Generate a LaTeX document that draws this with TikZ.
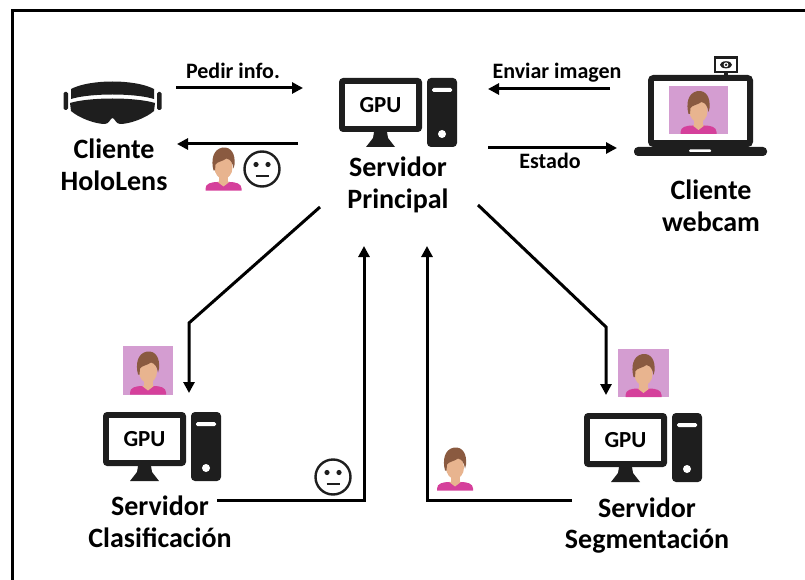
\documentclass[tikz,border=0pt]{standalone}
\usepackage{fontspec}
\setmainfont{Carlito}
\usetikzlibrary{arrows.meta}

\definecolor{icon}{HTML}{1E1E1E}
\definecolor{photobg}{HTML}{D49DD1}
\definecolor{photoshade}{HTML}{DAAAD8}
\definecolor{hair}{HTML}{8A5A40}
\definecolor{skin}{HTML}{E8B48F}
\definecolor{shirt}{HTML}{D5409B}

\tikzset{
  % generic user avatar (origin = centre of a 50x50 tile, y grows downwards)
  pics/person/.style={code={
    \fill[shirt] (-18,24) -- (-18,22) .. controls (-18,17) and (-12,15.5) .. (-6,15.5)
       -- (6,15.5) .. controls (12,15.5) and (18,17) .. (18,22) -- (18,24) -- cycle;
    \fill[skin] (-4.5,8) rectangle (4.5,16);
    \fill[skin] (-6,15.4) -- (6,15.4) -- (0,20) -- cycle;
    \fill[skin] (0,1) ellipse (9 and 11.5);
    \fill[hair] (-10,4) .. controls (-12.5,-6) and (-11,-17) .. (-1,-19)
       .. controls (8,-20) and (12,-12) .. (11,-2) -- (10,2)
       .. controls (9,-4) and (7,-7) .. (3,-8)
       .. controls (-1,-5) and (-6,-5) .. (-8,-2) -- (-8.5,4) -- cycle;
  }},
  % neutral face emoji
  pics/neutral/.style={code={
    \draw[icon, line width=2.4pt] (0,0) circle (17.5);
    \fill[icon] (-6,-4.5) circle (2.6);
    \fill[icon] (6,-4.5) circle (2.6);
    \draw[icon, line width=2.4pt] (-6.5,7) -- (6.5,7);
  }},
  % desktop computer with GPU label (origin = top-left corner of the screen)
  pics/gpuserver/.style={code={
    \fill[icon, rounded corners=4pt] (0,0) rectangle (83,54);
    \fill[white] (6,6) rectangle (77,48);
    \fill[icon] (35,54) -- (48,54) -- (49,60) -- (56,69) -- (27,69) -- (34,60) -- cycle;
    \fill[icon, rounded corners=4pt] (88,0) rectangle (118,69);
    \fill[white, rounded corners=1.5pt] (93,10) rectangle (113,14);
    \fill[white] (103,56) circle (4);
    \node[gpulbl] (-gpu) at (41.5,27.5) {GPU};
  }},
  gpulbl/.style={font=\fontsize{23}{27}\selectfont\bfseries, inner sep=0pt},
  title/.style={font=\fontsize{28}{32}\selectfont\bfseries, inner sep=0pt, anchor=base},
  msg/.style={font=\fontsize{22}{26}\selectfont\bfseries, inner sep=0pt, anchor=base},
  photo/.style={fill=photobg, inner sep=0pt, draw=none},
  flow/.style={line width=3pt, -{Triangle[length=11pt,width=11pt]}},
  link/.style={line width=3pt},
}

\begin{document}
\begin{tikzpicture}[x=1pt,y=-1pt]
\useasboundingbox (0,0) rectangle (805,580);

% outer frame
\begin{scope}
  \clip (0,0) rectangle (805,580);
  \draw[line width=3pt] (12.5,10.5) rectangle (830,600);
\end{scope}

% ---------- HoloLens client ----------
\fill[icon] (71,89) .. controls (90,79) and (135,79) .. (154,89)
   -- (154,99) .. controls (135,93) and (90,93) .. (71,99) -- cycle;
\fill[icon] (70,103) .. controls (90,97) and (135,97) .. (155,103)
   -- (154,111) .. controls (146,118) and (130,124) .. (120,124)
   .. controls (116,124) and (114.5,118) .. (112.5,118)
   .. controls (110.5,118) and (109,124) .. (105,124)
   .. controls (95,124) and (79,118) .. (71,111) -- cycle;
\fill[icon, rounded corners=1.5pt] (63.5,92) rectangle (68,110);
\fill[icon, rounded corners=1.5pt] (157,92) rectangle (161.5,110);
\node[title] (holo1) at (114,159) {Cliente};
\node[title] (holo2) at (114,190) {HoloLens};

% ---------- main server ----------
\pic (srvmain) at (339,78) {gpuserver};
\node[title] (main1) at (398,177) {Servidor};
\node[title] (main2) at (398,208) {Principal};

% ---------- webcam client ----------
\fill[icon, rounded corners=5pt] (648,75) rectangle (753,147);
\fill[white] (654,81) rectangle (747,140);
\node[photo, minimum width=59pt, minimum height=48pt] (camphoto) at (698.5,110) {};
\pic at (698.5,110) {person};
\fill[icon, rounded corners=4pt] (634,147) rectangle (767,156);
\fill[white, rounded corners=1pt] (689,149.5) rectangle (711,152);
\draw[icon, line width=2.2pt, fill=white] (715,57.5) rectangle (737,72);
\fill[icon] (724,72) rectangle (728,75);
\fill[icon] (726,64.8) ellipse (6 and 3.6);
\fill[white] (726,64.8) circle (2.4);
\fill[icon] (726,64.8) circle (1.3);
\node[title] (cam1) at (711,200) {Cliente};
\node[title] (cam2) at (711,231) {webcam};

% ---------- classification server ----------
\node[photo, minimum width=50pt, minimum height=49pt] (clsphoto) at (148,370.5) {};
\pic at (148,370.5) {person};
\pic (srvcls) at (103,412) {gpuserver};
\node[title] (cls1) at (160,515) {Servidor};
\node[title] (cls2) at (160,547) {Clasificación};

% ---------- segmentation server ----------
\node[photo, minimum width=51pt, minimum height=48pt] (segphoto) at (643.5,373) {};
\pic at (643.5,373) {person};
\pic (srvseg) at (584,413) {gpuserver};
\node[title] (seg1) at (647,517) {Servidor};
\node[title] (seg2) at (647,548) {Segmentación};

% ---------- connector end points ----------
\coordinate (reqA) at (176,88);   \coordinate (reqB) at (303,88);
\coordinate (ansA) at (298,144);  \coordinate (ansB) at (177,144);
\coordinate (imgA) at (610,89);   \coordinate (imgB) at (488,89);
\coordinate (stA)  at (488,148);  \coordinate (stB)  at (617,148);
\coordinate (toclsA) at (320,207); \coordinate (toclsB) at (189,323); \coordinate (toclsC) at (189,393);
\coordinate (tosegA) at (478,205); \coordinate (tosegB) at (606,327); \coordinate (tosegC) at (606,395);
\coordinate (frclsA) at (217,500); \coordinate (frclsB) at (364,500); \coordinate (frclsC) at (364,246);
\coordinate (frsegA) at (572,500); \coordinate (frsegB) at (427,500); \coordinate (frsegC) at (427,246);

% ---------- messages ----------
\draw[flow] (reqA) -- (reqB);
\node[msg] (lreq) at (233,79) {Pedir info.};
\draw[flow] (ansA) -- (ansB);
\pic at (223.5,166.5) {person={}};
\pic at (262,169) {neutral};

\draw[flow] (imgA) -- (imgB);
\node[msg] (limg) at (557,79) {Enviar imagen};
\draw[flow] (stA) -- (stB);
\node[msg] (lst) at (550,168) {Estado};

\draw[flow] (toclsA) -- (toclsB) -- (toclsC);
\draw[flow] (tosegA) -- (tosegB) -- (tosegC);
\draw[flow] (frclsA) -- (frclsB) -- (frclsC);
\draw[flow] (frsegA) -- (frsegB) -- (frsegC);

\pic at (333,477) {neutral};
\begin{scope}[shift={(455,466.5)}, scale=1.03]
  \pic {person};
\end{scope}
\end{tikzpicture}
\end{document}
